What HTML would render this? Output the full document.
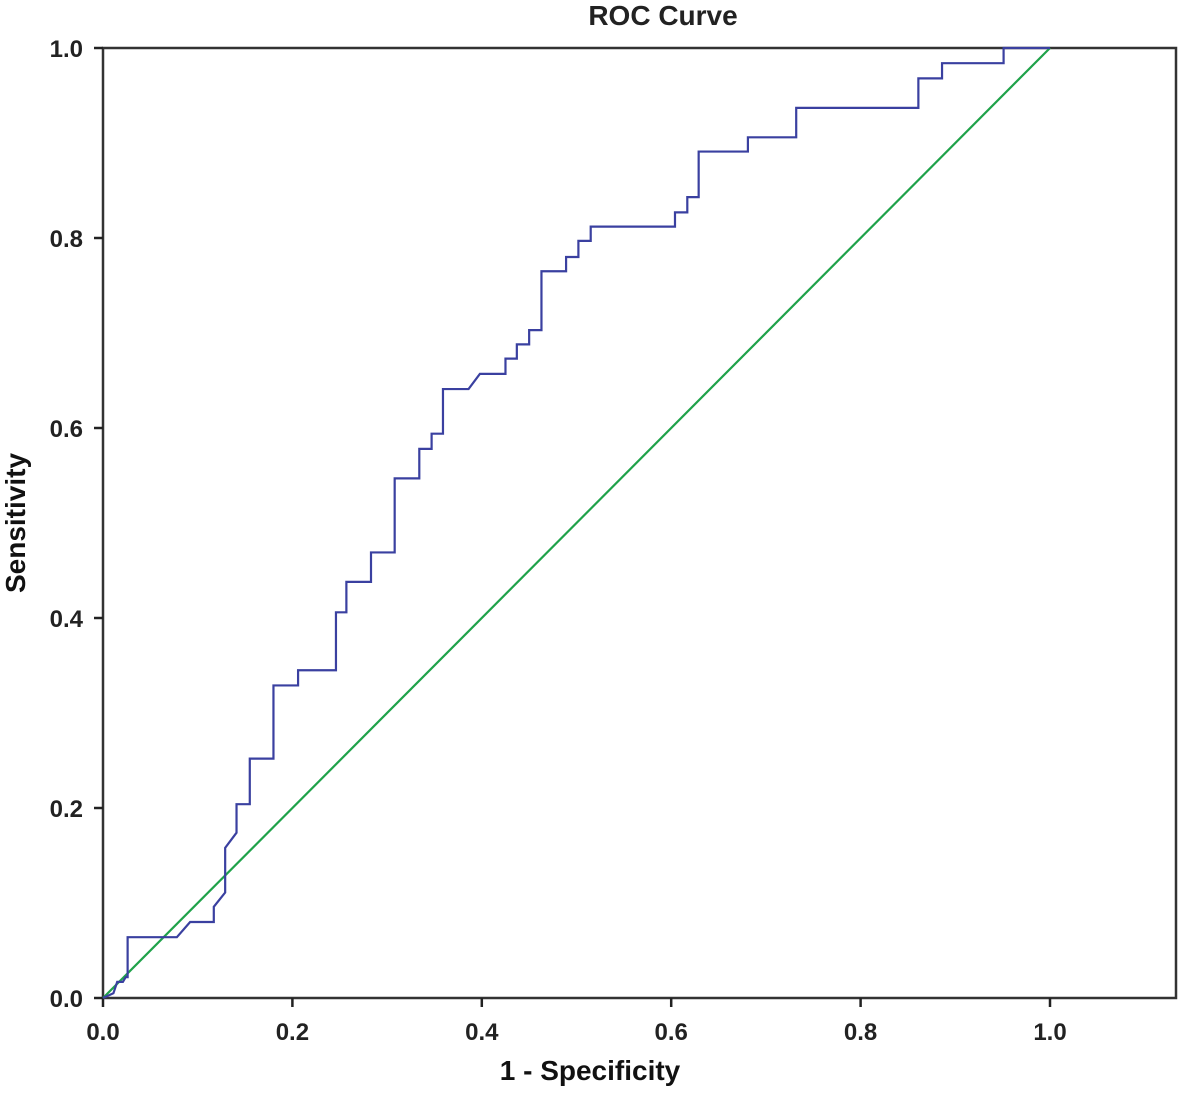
<!DOCTYPE html>
<html><head><meta charset="utf-8"><style>
html,body{margin:0;padding:0;background:#fff;}
svg{display:block;font-family:"Liberation Sans",Arial,sans-serif;}
</style></head><body>
<svg id="chart" width="1181" height="1116" viewBox="0 0 1181 1116">
<text x="663" y="25" text-anchor="middle" font-size="28" font-weight="bold" fill="#222">ROC Curve</text>
<g id="plot"></g>
<text x="590" y="1080" text-anchor="middle" font-size="28" font-weight="bold" fill="#111">1 - Specificity</text>
<text transform="translate(25,523) rotate(-90)" text-anchor="middle" font-size="28" font-weight="bold" fill="#111">Sensitivity</text>
</svg>
<script>
const xTicks = [0, 0.2, 0.4, 0.6, 0.8, 1.0];
const yTicks = [0, 0.2, 0.4, 0.6, 0.8, 1.0];
const fpr = [0,.011,.015,.021,.024,.026,.026,.078,.092,.117,.117,.129,.129,.141,.141,.155,.155,.180,.180,.206,.206,.246,.246,.257,.257,.283,.283,.308,.308,.334,.334,.347,.347,.359,.359,.386,.398,.425,.425,.437,.437,.450,.450,.463,.463,.489,.489,.502,.502,.515,.515,.604,.604,.617,.617,.629,.629,.681,.681,.732,.732,.861,.861,.886,.886,.951,.951,1];
const tpr = [0,.005,.017,.017,.022,.022,.064,.064,.080,.080,.096,.111,.158,.174,.204,.204,.252,.252,.329,.329,.345,.345,.406,.406,.438,.438,.469,.469,.547,.547,.578,.578,.594,.594,.641,.641,.657,.657,.673,.673,.688,.688,.703,.703,.765,.765,.780,.780,.797,.797,.812,.812,.827,.827,.843,.843,.891,.891,.906,.906,.937,.937,.968,.968,.984,.984,1,1];
const refX = [0, 1];
const refY = [0, 1];

const L=103, R=1176, T=48, B=998, X1=1050;
const sx = v => L + v*(X1-L);
const sy = v => B - v*(B-T);
const NS='http://www.w3.org/2000/svg';
const g=document.getElementById('plot');
function mk(t,a){const e=document.createElementNS(NS,t);for(const k in a)e.setAttribute(k,a[k]);g.appendChild(e);return e;}

const frame=mk('rect',{x:L,y:T,width:R-L,height:B-T,fill:'none',stroke:'#333','stroke-width':2.5});



xTicks.forEach(v=>{
  const t=mk('line',{x1:sx(v),x2:sx(v),y1:B,y2:B+9,stroke:'#222','stroke-width':2.5});
  
  
  const l=mk('text',{x:sx(v),y:B+42,'text-anchor':'middle','font-size':24,'font-weight':'bold',fill:'#222'});
  l.textContent=v.toFixed(1);
  
  
});
yTicks.forEach(v=>{
  const t=mk('line',{x1:L-9,x2:L,y1:sy(v),y2:sy(v),stroke:'#222','stroke-width':2.5});
  
  
  const l=mk('text',{x:L-20,y:sy(v)+9,'text-anchor':'end','font-size':24,'font-weight':'bold',fill:'#222'});
  l.textContent=v.toFixed(1);
  
  
});

const ref=mk('polyline',{points:refX.map((v,i)=>sx(v)+','+sy(refY[i])).join(' '),fill:'none',stroke:'#1fa24a','stroke-width':2.2});



const roc=mk('polyline',{points:fpr.map((v,i)=>sx(v)+','+sy(tpr[i])).join(' '),fill:'none',stroke:'#3a40a0','stroke-width':2.2});


</script>
</body></html>
